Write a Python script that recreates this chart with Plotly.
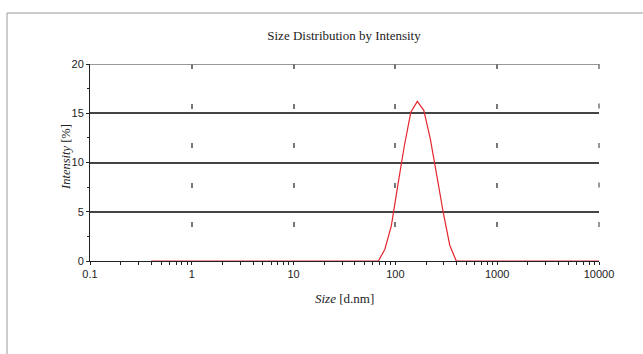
import plotly.graph_objects as go

# Standard size bins (d.nm)
sizes = [0.4, 0.4632, 0.5365, 0.6213, 0.7195, 0.8332, 0.9649, 1.117, 1.294, 1.499,
         1.736, 2.010, 2.328, 2.696, 3.122, 3.615, 4.187, 4.849, 5.615, 6.503,
         7.531, 8.721, 10.10, 11.70, 13.54, 15.69, 18.17, 21.04, 24.36, 28.21,
         32.67, 37.84, 43.82, 50.75, 58.77, 68.06, 78.82, 91.28, 105.7, 122.4,
         141.8, 164.2, 190.1, 220.2, 255.0, 295.3, 342.0, 396.1, 458.7, 531.2,
         615.1, 712.4, 825.0, 955.4, 1106, 1281, 1484, 1718, 1990, 2305,
         2669, 3091, 3580, 4145, 4801, 5560, 6439, 7456, 8635, 10000]

intensity = [0, 0, 0, 0, 0, 0, 0, 0, 0, 0,
             0, 0, 0, 0, 0, 0, 0, 0, 0, 0,
             0, 0, 0, 0, 0, 0, 0, 0, 0, 0,
             0, 0, 0, 0, 0, 0, 1.2, 3.6, 7.7, 11.7,
             15.1, 16.2, 15.3, 12.4, 8.7, 4.9, 1.6, 0, 0, 0,
             0, 0, 0, 0, 0, 0, 0, 0, 0, 0,
             0, 0, 0, 0, 0, 0, 0, 0, 0, 0]

x_tickvals = [0.1, 1, 10, 100, 1000, 10000]
x_ticktext = ["0.1", "1", "10", "100", "1000", "10000"]
y_tickvals = [0, 5, 10, 15, 20]

title_text = "Size Distribution by Intensity"
x_title = "<i>Size</i> [d.nm]"
y_title = "<i>Intensity</i> [%]"

W, H = 643, 354
L, R, T, B = 90, 44, 64, 93
pw, ph = W - L - R, H - T - B

def px_to_paper_x(px):
    return (px - L) / pw

def px_to_paper_y(py):
    return (H - B - py) / ph

fig = go.Figure()
fig.add_trace(go.Scatter(
    x=sizes, y=intensity, mode="lines",
    line=dict(color="#e3262e", width=1.2),
    showlegend=False, hoverinfo="skip",
))

tickfont = dict(family="Liberation Sans, Arial, sans-serif", size=11, color="#222")
serif = "Liberation Serif, Times New Roman, serif"
griddash = "5px,34.5px"

fig.update_layout(
    width=W, height=H,
    margin=dict(l=L, r=R, t=T, b=B),
    paper_bgcolor="white", plot_bgcolor="white",
    title=dict(text=title_text, x=344 / W, xanchor="center",
               y=1 - 35 / H, yanchor="middle", yref="container",
               font=dict(family=serif, size=13, color="#222")),
    xaxis=dict(
        type="log", range=[-1, 4],
        tickmode="array", tickvals=x_tickvals, ticktext=x_ticktext,
        tickfont=tickfont, ticks="outside", ticklen=3, tickcolor="#222", tickwidth=1,
        showline=True, linecolor="#222", linewidth=1,
        showgrid=True, gridcolor="#777", gridwidth=1.5, griddash=griddash,
        minor=dict(ticks="outside", ticklen=3, tickcolor="#222", dtick="D1", showgrid=False),
        zeroline=False,
    ),
    yaxis=dict(
        range=[0, 20],
        tickmode="array", tickvals=y_tickvals,
        tickfont=tickfont, ticks="outside", ticklen=3, tickcolor="#222",
        showline=True, linecolor="#222", linewidth=1,
        showgrid=True, gridcolor="#444", gridwidth=1.5,
        minor=dict(ticks="outside", ticklen=2, tickcolor="#222", dtick=2.5, showgrid=False),
        zeroline=False,
    ),
    annotations=[
        dict(text=x_title, xref="paper", yref="paper", x=0.5, y=px_to_paper_y(298),
             xanchor="center", yanchor="middle", showarrow=False,
             font=dict(family=serif, size=13, color="#222")),
        dict(text=y_title, xref="paper", yref="paper", x=px_to_paper_x(66), y=px_to_paper_y(157),
             xanchor="center", yanchor="middle", showarrow=False, textangle=-90,
             font=dict(family=serif, size=12.5, color="#222")),
    ],
    shapes=[
        # outer frame
        dict(type="line", xref="paper", yref="paper",
             x0=px_to_paper_x(7), x1=px_to_paper_x(7),
             y0=px_to_paper_y(13), y1=px_to_paper_y(360),
             line=dict(color="#999", width=1)),
        dict(type="line", xref="paper", yref="paper",
             x0=px_to_paper_x(7), x1=px_to_paper_x(650),
             y0=px_to_paper_y(13), y1=px_to_paper_y(13),
             line=dict(color="#999", width=1)),
        # gridlines at the plot edges (top at 20, right at 10000)
        dict(type="line", xref="paper", yref="y", x0=0, x1=1, y0=20, y1=20,
             line=dict(color="#777", width=1.5), layer="below"),
        dict(type="line", xref="paper", yref="paper", x0=1, x1=1, y0=1, y1=0,
             line=dict(color="#777", width=1.5, dash=griddash), layer="below"),
    ],
)

fig.write_html("out.html")
